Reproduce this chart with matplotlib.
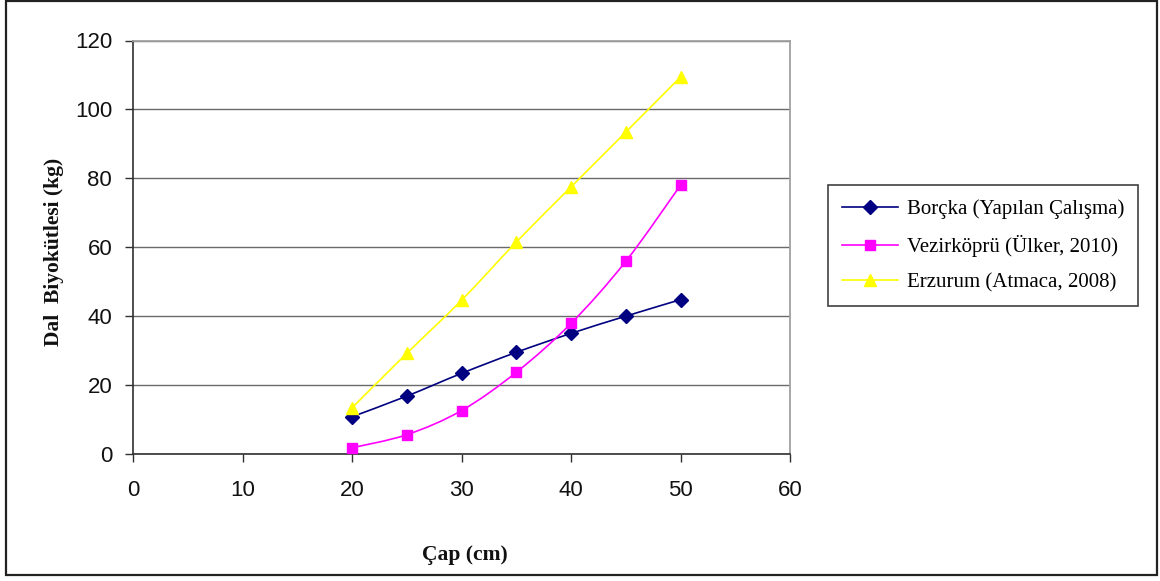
import matplotlib
matplotlib.use("Agg")
import matplotlib.pyplot as plt
from matplotlib.path import Path
from matplotlib.patches import PathPatch, Rectangle
from matplotlib.lines import Line2D
import numpy as np

# Diameter classes (cm) and branch biomass (kg) for each study
cap = [20, 25, 30, 35, 40, 45, 50]
borcka = [10.8, 16.8, 23.4, 29.5, 35.0, 40.0, 44.8]
vezirkopru = [1.8, 5.6, 12.6, 23.7, 37.9, 55.9, 78.0]
erzurum = [13.4, 29.2, 44.6, 61.5, 77.5, 93.4, 109.4]

labels = ["Borçka (Yapılan Çalışma)", "Vezirköprü (Ülker, 2010)", "Erzurum (Atmaca, 2008)"]
colors = ["#000080", "#FF00FF", "#FFFF00"]
markers = ["D", "s", "^"]
marker_sizes = [7, 7.5, 9]

x_ticks = [0, 10, 20, 30, 40, 50, 60]
y_ticks = [0, 20, 40, 60, 80, 100, 120]

W, H = 1160, 581
fig = plt.figure(figsize=(W / 100, H / 100), dpi=100)
fig.patch.set_facecolor("white")

# plot area placed in pixel terms
left, right, top, bottom = 133, 790, 40.5, 454
ax = fig.add_axes([left / W, 1 - bottom / H, (right - left) / W, (bottom - top) / H])


def smooth_path(xs, ys):
    # Excel-style smoothed line: cubic Bezier through each point
    pts = np.column_stack([xs, ys]).astype(float)
    n = len(pts)
    verts = [pts[0]]
    codes = [Path.MOVETO]
    for i in range(n - 1):
        p0 = pts[max(i - 1, 0)]
        p1 = pts[i]
        p2 = pts[i + 1]
        p3 = pts[min(i + 2, n - 1)]
        c1 = p1 + (p2 - p0) / 6.0
        c2 = p2 - (p3 - p1) / 6.0
        verts += [c1, c2, p2]
        codes += [Path.CURVE4] * 3
    return Path(verts, codes)


series = [borcka, vezirkopru, erzurum]
handles = []
for vals, col, mk, ms, lab in zip(series, colors, markers, marker_sizes, labels):
    ax.add_patch(PathPatch(smooth_path(cap, vals), facecolor="none", edgecolor=col,
                           linewidth=1.2, zorder=3))
    ax.plot(cap, vals, linestyle="none", marker=mk, markersize=ms, color=col,
            markeredgecolor=col, zorder=4)
    handles.append(Line2D([], [], color=col, linewidth=1.2, marker=mk, markersize=ms,
                          markeredgecolor=col, label=lab))

ax.set_xlim(0, 60)
ax.set_ylim(0, 120)
ax.set_xticks(x_ticks)
ax.set_yticks(y_ticks)
ax.yaxis.grid(True, color="#6a6a6a", linewidth=1.0)
ax.set_axisbelow(True)

for side in ["top", "right"]:
    ax.spines[side].set_color("#a0a0a0")
    ax.spines[side].set_linewidth(1.3)
for side in ["left", "bottom"]:
    ax.spines[side].set_color("#303030")
    ax.spines[side].set_linewidth(1.2)

ax.tick_params(axis="both", direction="out", length=6, width=1.0, color="#303030",
               labelsize=16, labelcolor="#111111")
ax.tick_params(axis="y", pad=9)
ax.tick_params(axis="x", pad=13)
for lbl in ax.get_xticklabels() + ax.get_yticklabels():
    lbl.set_fontfamily("Liberation Sans")

# axis titles
fig.text(54 / W, 1 - 252 / H, "Dal  Biyokütlesi (kg)", rotation=90, ha="center", va="center",
         fontsize=15.5, fontweight="bold", family="Liberation Serif", color="#111111")
fig.text(465 / W, 1 - 555 / H, "Çap (cm)", ha="center", va="center",
         fontsize=15.5, fontweight="bold", family="Liberation Serif", color="#111111")

# legend box on the right
leg = fig.legend(handles=handles, loc="upper left",
                 bbox_to_anchor=(828 / W, 1 - 185 / H), borderaxespad=0,
                 prop={"family": "Liberation Serif", "size": 15},
                 handlelength=2.7, handletextpad=0.4, labelspacing=0.76,
                 borderpad=0.68, fancybox=False, frameon=True)
leg.get_frame().set_edgecolor("#111111")
leg.get_frame().set_linewidth(1.2)

# outer border around the whole chart
fig.patches.append(Rectangle((6 / W, 1 - 575 / H), (1157 - 6) / W, (575 - 1) / H,
                             transform=fig.transFigure, fill=False,
                             edgecolor="#222222", linewidth=1.6))

fig.savefig("out.png", dpi=100, facecolor="white")
